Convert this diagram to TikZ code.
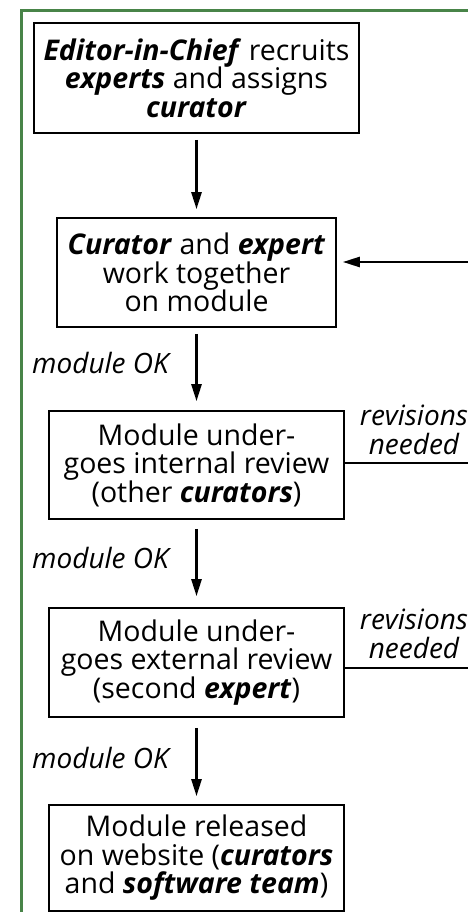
\documentclass[tikz,border=0pt]{standalone}
\usepackage{fontspec}
\setmainfont{Open Sans}
\usetikzlibrary{arrows.meta}
\definecolor{framegreen}{RGB}{72,132,72}
\newcommand{\bi}[1]{\textbf{\textit{#1}}}
\begin{document}
\begin{tikzpicture}[x=1pt,y=-1pt,
  box/.style={draw, line width=1.6pt, inner sep=0pt, align=center,
    font=\fontsize{28.5}{28.5}\selectfont},
  flow/.style={-{Triangle[length=17pt,width=10pt]}, line width=2.5pt},
  fback/.style={line width=2.5pt},
  lbl/.style={font=\fontsize{28}{29}\selectfont\itshape, align=center, inner sep=0pt}]
\useasboundingbox (0,0) rectangle (468,912);
\draw[framegreen, line width=2.2pt] (21.5,915) -- (21.5,10.5) -- (470,10.5);

\node[box, minimum width=325pt, minimum height=110pt] (b1) at (196.5,78)
  {\bi{Editor-in-Chief} recruits\\ \bi{experts} and assigns\\ \bi{curator}};
\node[box, minimum width=279pt, minimum height=109pt] (b2) at (196.5,272.5)
  {\bi{Curator} and \bi{expert}\\ work together\\ on module};
\node[box, minimum width=295pt, minimum height=108pt] (b3) at (196.5,465)
  {Module under-\\ goes internal review\\ (other \bi{curators})};
\node[box, minimum width=295pt, minimum height=109pt] (b4) at (196.5,662.5)
  {Module under-\\ goes external review\\ (second \bi{expert})};
\node[box, minimum width=295pt, minimum height=106pt] (b5) at (196.5,858)
  {Module released\\ on website (\bi{curators}\\ and \bi{software team})};

\draw[flow, shorten <=6pt, shorten >=8pt] (b1.south) -- (b2.north);
\draw[flow, shorten <=6pt, shorten >=9pt] (b2.south) -- (b3.north);
\draw[flow, shorten <=9pt, shorten >=11pt] (b3.south) -- (b4.north);
\draw[flow, shorten <=10pt, shorten >=8pt] (b4.south) -- (b5.north);

\node[lbl, anchor=base east] (ok1) at (169,373) {module OK};
\node[lbl, anchor=base east] (ok2) at (169,568) {module OK};
\node[lbl, anchor=base east] (ok3) at (169,768) {module OK};

\coordinate (edge) at (470,0);
\coordinate (in2) at ([yshift=10.5pt]b2.east);
\coordinate (out3) at ([yshift=2pt]b3.east);
\coordinate (out4) at ([yshift=-5.5pt]b4.east);
\draw[flow, shorten >=6pt] (in2 -| edge) -- (in2);
\draw[fback] (out3) -- (out3 -| edge);
\draw[fback] (out4) -- (out4 -| edge);

\node[lbl, anchor=south] (rev1) at (414,455) {revisions\\ needed};
\node[lbl, anchor=south] (rev2) at (414,659) {revisions\\ needed};
\end{tikzpicture}
\end{document}
